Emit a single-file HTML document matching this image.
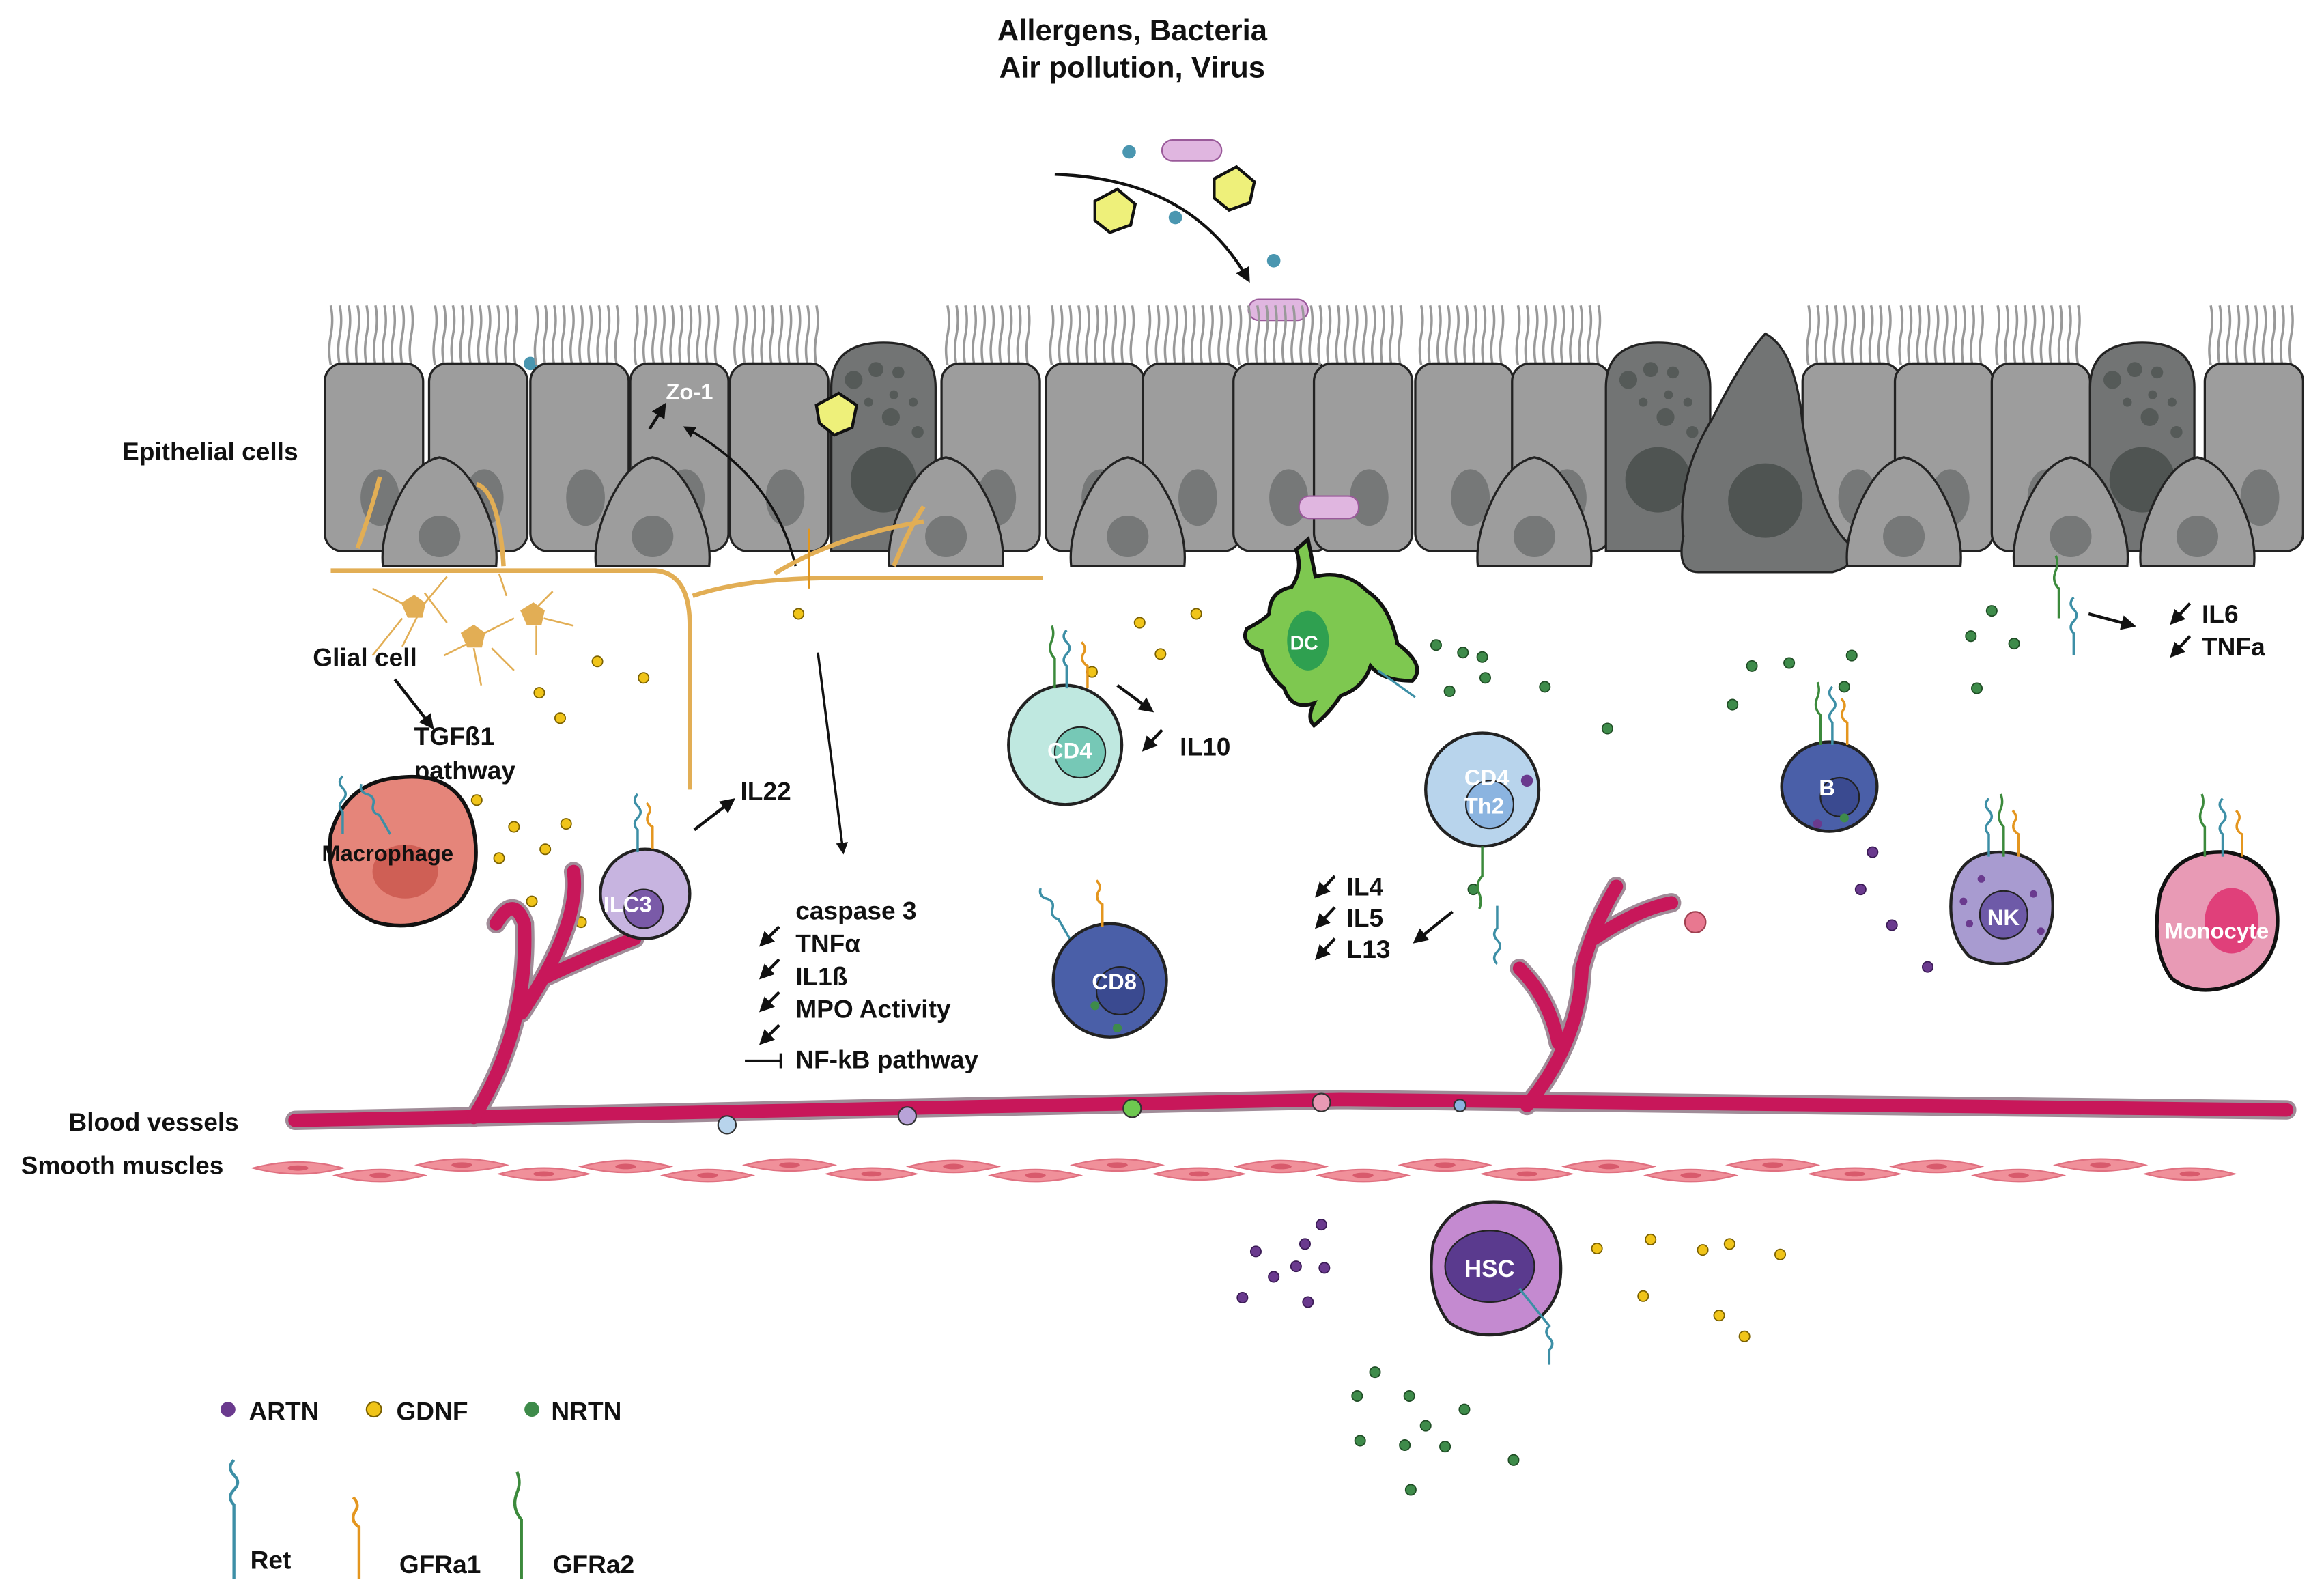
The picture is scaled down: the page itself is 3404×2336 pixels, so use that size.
<!DOCTYPE html>
<html><head><meta charset="utf-8"><style>
html,body{margin:0;padding:0;background:#fff}
svg{display:block}
text{font-family:"Liberation Sans",Arial,sans-serif;font-weight:bold;fill:#111}
</style></head><body>
<svg width="3404" height="2336" viewBox="0 0 1560 1070.6" xmlns="http://www.w3.org/2000/svg">
<defs>
<marker id="ah" viewBox="0 0 10 10" refX="8" refY="5" markerWidth="5" markerHeight="5" orient="auto"><path d="M0,0L10,5L0,10z" fill="#111"/></marker>
<g id="cil" stroke="#999" stroke-width="1.6" fill="none">
<path d="M4,45 q-2,-10 0,-20 q2,-10 0,-20"/><path d="M10,45 q-2,-10 0,-20 q2,-10 0,-20"/><path d="M16,45 q-2,-10 0,-20 q2,-10 0,-20"/><path d="M22,45 q-2,-10 0,-20 q2,-10 0,-20"/><path d="M28,45 q-2,-10 0,-20 q2,-10 0,-20"/><path d="M34,45 q-2,-10 0,-20 q2,-10 0,-20"/><path d="M40,45 q-2,-10 0,-20 q2,-10 0,-20"/><path d="M46,45 q-2,-10 0,-20 q2,-10 0,-20"/><path d="M52,45 q-2,-10 0,-20 q2,-10 0,-20"/><path d="M58,45 q-2,-10 0,-20 q2,-10 0,-20"/>
</g>
<g id="col"><use href="#cil" y="200"/><rect x="0" y="244" width="66" height="126" rx="12" fill="#9d9d9d" stroke="#222" stroke-width="1.5"/><ellipse cx="37" cy="334" rx="13" ry="19" fill="#767878"/></g>
<g id="bas"><path d="M-38,380 q-2,-20 10,-45 q12,-25 28,-28 q16,3 28,28 q12,25 10,45z" fill="#9d9d9d" stroke="#222" stroke-width="1.5"/><circle cx="0" cy="360" r="14" fill="#767878"/></g>
<g id="gob"><path d="M0,370 V260 q0,-30 35,-30 q35,0 35,30 V370z" fill="#727474" stroke="#222" stroke-width="1.5"/><circle cx="35" cy="322" r="22" fill="#4f5452"/><g fill="#555a58"><circle cx="15" cy="255" r="6"/><circle cx="30" cy="248" r="5"/><circle cx="45" cy="250" r="4"/><circle cx="42" cy="265" r="3"/><circle cx="25" cy="270" r="3"/><circle cx="40" cy="280" r="6"/><circle cx="55" cy="270" r="3"/><circle cx="58" cy="290" r="4"/></g></g>
<g id="ret" stroke="#3d8fa6" stroke-width="1.6" fill="none"><path d="M0,0 v-15 q-4,-4 0,-8 q4,-4 0,-8 q-4,-4 0,-8"/></g>
<g id="gf1" stroke="#e4961f" stroke-width="1.6" fill="none"><path d="M0,0 v-15 q-5,-3 -3,-8 q3,-4 -1,-8"/></g>
<g id="gf2" stroke="#3c8a3c" stroke-width="1.6" fill="none"><path d="M0,0 v-20 q-5,-5 -2,-12 q2,-5 0,-10"/></g>
<g id="sm"><path d="M0,0 q30,-8 60,0 q-30,8 -60,0z" fill="#f0909a" stroke="#e07080" stroke-width="1"/><ellipse cx="30" cy="0" rx="7" ry="1.8" fill="#d85a6c"/></g>
</defs>

<text x="760" y="27" font-size="20" text-anchor="middle">Allergens, Bacteria</text>
<text x="760" y="52" font-size="20" text-anchor="middle">Air pollution, Virus</text>

<path d="M708,117 Q800,120 838,188" fill="none" stroke="#111" stroke-width="2" marker-end="url(#ah)"/>
<rect x="780" y="94" width="40" height="14" rx="7" fill="#e0b6e0" stroke="#9a5a9a"/>
<path d="M735,135 l15,-8 l12,10 l-3,14 l-14,5 l-10,-8z" fill="#eef07a" stroke="#111" stroke-width="2"/>
<path d="M815,120 l15,-8 l12,10 l-3,14 l-14,5 l-10,-8z" fill="#eef07a" stroke="#111" stroke-width="2"/>
<g fill="#4a96b0"><circle cx="758" cy="102" r="4.5"/><circle cx="789" cy="146" r="4.5"/><circle cx="855" cy="175" r="4.5"/><circle cx="356" cy="244" r="4.5"/></g>
<rect x="838" y="201" width="40" height="14" rx="7" fill="#e0b6e0" stroke="#9a5a9a"/>

<use href="#col" x="218"/><use href="#col" x="288"/><use href="#col" x="356"/><use href="#col" x="423"/><use href="#col" x="490"/>
<use href="#col" x="632"/><use href="#col" x="702"/><use href="#col" x="767"/><use href="#col" x="828"/><use href="#col" x="882"/><use href="#col" x="950"/><use href="#col" x="1015"/>
<use href="#col" x="1210"/><use href="#col" x="1272"/><use href="#col" x="1337"/><use href="#col" x="1480"/>
<use href="#gob" x="558"/><use href="#gob" x="1078"/><use href="#gob" x="1403"/>
<path d="M1130,360 q-5,-40 20,-80 q20,-40 35,-56 q20,10 25,60 q10,60 30,80 q10,15 -10,20 h-90 q-15,0 -10,-24z" fill="#727474" stroke="#222" stroke-width="1.5"/>
<circle cx="1185" cy="336" r="25" fill="#4f5452"/>
<use href="#bas" x="295"/><use href="#bas" x="438"/><use href="#bas" x="635"/><use href="#bas" x="757"/><use href="#bas" x="1030"/><use href="#bas" x="1278"/><use href="#bas" x="1390"/><use href="#bas" x="1475"/>
<path d="M548,272 l15,-8 l12,8 l-3,15 l-12,5 l-10,-8z" fill="#eef07a" stroke="#111" stroke-width="2"/>
<rect x="872" y="333" width="40" height="15" rx="7" fill="#e0b6e0" stroke="#9a5a9a"/>
<text x="82" y="309" font-size="17">Epithelial cells</text>
<text x="447" y="268" font-size="15" style="fill:#fff">Zo-1</text>
<path d="M436,288 l10,-16" stroke="#111" stroke-width="2" marker-end="url(#ah)"/>
<path d="M534,380 Q520,320 460,287" fill="none" stroke="#111" stroke-width="1.6" marker-end="url(#ah)"/>

<g stroke="#e2ae55" stroke-width="3" fill="none">
<path d="M222,383 H440 Q463,385 463,420 V530"/>
<path d="M465,400 Q500,388 560,388 H700"/>
<path d="M520,385 Q560,360 620,350"/><path d="M240,368 Q250,340 255,320"/><path d="M338,380 Q335,330 320,325"/><path d="M600,380 Q610,355 620,340"/>
<path d="M543,395 v-40" stroke="#e0961e" stroke-width="1.5"/>
</g>
<g fill="#e2ae55" stroke="#e2ae55" stroke-width="1.2">
<path d="M270,405 l8,-5 l7,5 l-2,9 h-9z"/><path d="M310,425 l8,-5 l7,5 l-2,9 h-9z"/><path d="M350,410 l8,-5 l7,5 l-2,9 h-9z"/>
<path d="M270,405 l-20,-10 M285,405 l15,-18 M280,414 l-10,20 M318,430 l-20,10 M325,425 l20,-10 M318,435 l5,25 M356,412 l15,-15 M365,415 l20,5 M360,420 l0,20 M250,440 l20,-25 M300,418 l-15,-20 M340,400 l-5,-15 M330,435 l15,15" fill="none"/>
</g>
<text x="210" y="447" font-size="17">Glial cell</text>
<path d="M265,456 L290,488" stroke="#111" stroke-width="2" marker-end="url(#ah)"/>
<text x="278" y="500" font-size="17">TGFß1</text>
<text x="278" y="523" font-size="17">pathway</text>
<path d="M549,438 L566,572" stroke="#111" stroke-width="1.6" marker-end="url(#ah)"/>

<g fill="#f0c419" stroke="#7a6000" stroke-width="0.8">
<circle cx="536" cy="412" r="3.5"/><circle cx="401" cy="444" r="3.5"/><circle cx="362" cy="465" r="3.5"/><circle cx="432" cy="455" r="3.5"/><circle cx="376" cy="482" r="3.5"/><circle cx="320" cy="537" r="3.5"/><circle cx="345" cy="555" r="3.5"/><circle cx="366" cy="570" r="3.5"/><circle cx="380" cy="553" r="3.5"/><circle cx="335" cy="576" r="3.5"/><circle cx="357" cy="605" r="3.5"/><circle cx="390" cy="619" r="3.5"/><circle cx="303" cy="536" r="3.5"/>
<circle cx="765" cy="418" r="3.5"/><circle cx="803" cy="412" r="3.5"/><circle cx="779" cy="439" r="3.5"/><circle cx="733" cy="451" r="3.5"/>
<circle cx="1072" cy="838" r="3.5"/><circle cx="1108" cy="832" r="3.5"/><circle cx="1143" cy="839" r="3.5"/><circle cx="1161" cy="835" r="3.5"/><circle cx="1195" cy="842" r="3.5"/><circle cx="1103" cy="870" r="3.5"/><circle cx="1154" cy="883" r="3.5"/><circle cx="1171" cy="897" r="3.5"/>
</g>
<g fill="#3e8b4a" stroke="#1f4d25" stroke-width="0.8">
<circle cx="964" cy="433" r="3.5"/><circle cx="982" cy="438" r="3.5"/><circle cx="995" cy="441" r="3.5"/><circle cx="997" cy="455" r="3.5"/><circle cx="1037" cy="461" r="3.5"/><circle cx="973" cy="464" r="3.5"/><circle cx="1079" cy="489" r="3.5"/><circle cx="1176" cy="447" r="3.5"/><circle cx="1201" cy="445" r="3.5"/><circle cx="1243" cy="440" r="3.5"/><circle cx="1163" cy="473" r="3.5"/><circle cx="1238" cy="461" r="3.5"/><circle cx="1323" cy="427" r="3.5"/><circle cx="1352" cy="432" r="3.5"/><circle cx="1337" cy="410" r="3.5"/><circle cx="1327" cy="462" r="3.5"/><circle cx="989" cy="597" r="3.5"/>
<circle cx="923" cy="921" r="3.5"/><circle cx="911" cy="937" r="3.5"/><circle cx="946" cy="937" r="3.5"/><circle cx="983" cy="946" r="3.5"/><circle cx="957" cy="957" r="3.5"/><circle cx="913" cy="967" r="3.5"/><circle cx="943" cy="970" r="3.5"/><circle cx="970" cy="971" r="3.5"/><circle cx="1016" cy="980" r="3.5"/><circle cx="947" cy="1000" r="3.5"/>
</g>
<g fill="#6a3a8e" stroke="#3a1a55" stroke-width="0.8">
<circle cx="1257" cy="572" r="3.5"/><circle cx="1249" cy="597" r="3.5"/><circle cx="1270" cy="621" r="3.5"/><circle cx="1294" cy="649" r="3.5"/>
<circle cx="887" cy="822" r="3.5"/><circle cx="876" cy="835" r="3.5"/><circle cx="843" cy="840" r="3.5"/><circle cx="870" cy="850" r="3.5"/><circle cx="889" cy="851" r="3.5"/><circle cx="855" cy="857" r="3.5"/><circle cx="834" cy="871" r="3.5"/><circle cx="878" cy="874" r="3.5"/>
</g>

<g stroke="#a08c98" stroke-width="13" fill="none" stroke-linecap="round">
<path d="M198,752 L900,738 L1535,745"/><path d="M318,750 Q355,690 352,620 Q345,600 333,620 M350,680 Q390,620 385,585 M368,655 Q400,640 426,630"/><path d="M1025,742 Q1060,700 1062,650 Q1070,620 1085,595 M1046,700 Q1040,670 1020,650 M1070,630 Q1100,610 1122,606"/>
</g>
<g stroke="#c8175a" stroke-width="9" fill="none" stroke-linecap="round">
<path d="M198,752 L900,738 L1535,745"/><path d="M318,750 Q355,690 352,620 Q345,600 333,620 M350,680 Q390,620 385,585 M368,655 Q400,640 426,630"/><path d="M1025,742 Q1060,700 1062,650 Q1070,620 1085,595 M1046,700 Q1040,670 1020,650 M1070,630 Q1100,610 1122,606"/>
</g>
<circle cx="488" cy="755" r="6" fill="#b8d4ec" stroke="#333"/><circle cx="609" cy="749" r="6" fill="#b8a3d8" stroke="#333"/><circle cx="760" cy="744" r="6" fill="#6ec850" stroke="#333"/><circle cx="887" cy="740" r="6" fill="#e89ab5" stroke="#333"/><circle cx="980" cy="742" r="4" fill="#8bb4e0" stroke="#333"/>
<circle cx="1138" cy="619" r="7" fill="#e87890" stroke="#a04050"/>
<text x="46" y="759" font-size="17">Blood vessels</text>
<text x="14" y="788" font-size="17">Smooth muscles</text>
<g>
<use href="#sm" x="170" y="784"/><use href="#sm" x="225" y="789"/><use href="#sm" x="280" y="782"/><use href="#sm" x="335" y="788"/><use href="#sm" x="390" y="783"/><use href="#sm" x="445" y="789"/><use href="#sm" x="500" y="782"/><use href="#sm" x="555" y="788"/><use href="#sm" x="610" y="783"/><use href="#sm" x="665" y="789"/><use href="#sm" x="720" y="782"/><use href="#sm" x="775" y="788"/><use href="#sm" x="830" y="783"/><use href="#sm" x="885" y="789"/><use href="#sm" x="940" y="782"/><use href="#sm" x="995" y="788"/><use href="#sm" x="1050" y="783"/><use href="#sm" x="1105" y="789"/><use href="#sm" x="1160" y="782"/><use href="#sm" x="1215" y="788"/><use href="#sm" x="1270" y="783"/><use href="#sm" x="1325" y="789"/><use href="#sm" x="1380" y="782"/><use href="#sm" x="1440" y="788"/>
</g>

<path d="M222,560 q10,-35 45,-38 q40,-5 50,30 q8,35 -10,55 q-25,20 -55,12 q-35,-15 -30,-59z" fill="#e5857a" stroke="#111" stroke-width="2.5"/>
<ellipse cx="272" cy="585" rx="22" ry="18" fill="#cf5f55"/>
<use href="#ret" transform="translate(230,560)"/><use href="#ret" transform="translate(262,560) rotate(-30)"/>
<text x="216" y="578" font-size="15">Macrophage</text>
<circle cx="433" cy="600" r="30" fill="#c7b4e0" stroke="#222" stroke-width="2"/><circle cx="432" cy="610" r="13" fill="#7a5aa8" stroke="#222"/>
<use href="#ret" transform="translate(428,572)"/><use href="#gf1" transform="translate(438,570)"/>
<text x="405" y="612" font-size="15" style="fill:#fff">ILC3</text>
<path d="M466,557 L492,537" stroke="#111" stroke-width="2" marker-end="url(#ah)"/>
<text x="497" y="537" font-size="17">IL22</text>
<ellipse cx="715" cy="500" rx="38" ry="40" fill="#bfe8e0" stroke="#222" stroke-width="2"/><circle cx="725" cy="505" r="17" fill="#76c8b6" stroke="#222"/>
<use href="#ret" transform="translate(716,462)"/><use href="#gf2" transform="translate(708,462)"/><use href="#gf1" transform="translate(730,462)"/>
<text x="703" y="509" font-size="15" style="fill:#fff">CD4</text>
<path d="M750,460 L773,477" stroke="#111" stroke-width="2" marker-end="url(#ah)"/>
<path d="M780,490 L768,503" stroke="#111" stroke-width="2" marker-end="url(#ah)"/>
<text x="792" y="507" font-size="17">IL10</text>
<path d="M878,362 l5,25 q20,-5 35,10 q15,10 20,35 q20,15 10,25 q-20,0 -28,-10 q-5,15 -20,20 q-8,12 -18,20 q-5,-5 0,-15 q-15,5 -20,-10 q-12,-10 -15,-25 q-15,-5 -10,-15 q10,-5 15,-10 q0,-15 15,-18 q8,-12 3,-25z" fill="#7ec850" stroke="#111" stroke-width="2.5"/>
<ellipse cx="878" cy="430" rx="14" ry="20" fill="#2fa050"/>
<text x="866" y="436" font-size="13" style="fill:#fff">DC</text>
<path d="M925,450 l25,18" stroke="#3d8fa6" stroke-width="1.5"/>
<ellipse cx="995" cy="530" rx="38" ry="38" fill="#b8d4ec" stroke="#222" stroke-width="2"/><circle cx="1000" cy="540" r="16" fill="#8bb4e0" stroke="#222"/>
<circle cx="1025" cy="524" r="4" fill="#6a3a8e"/>
<use href="#ret" transform="translate(1005,608) scale(1,-1)"/><use href="#gf2" transform="translate(995,568) scale(1,-1)"/>
<text x="983" y="527" font-size="15" style="fill:#fff">CD4</text>
<text x="983" y="546" font-size="15" style="fill:#fff">Th2</text>
<path d="M975,612 L950,632" stroke="#111" stroke-width="2" marker-end="url(#ah)"/>
<text x="904" y="601" font-size="17">IL4</text><text x="904" y="622" font-size="17">IL5</text><text x="904" y="643" font-size="17">L13</text>
<path d="M896,588 l-12,13" stroke="#111" stroke-width="2" marker-end="url(#ah)"/>
<path d="M896,609 l-12,13" stroke="#111" stroke-width="2" marker-end="url(#ah)"/>
<path d="M896,630 l-12,13" stroke="#111" stroke-width="2" marker-end="url(#ah)"/>
<ellipse cx="1228" cy="528" rx="32" ry="30" fill="#4a5fa8" stroke="#222" stroke-width="2"/><circle cx="1235" cy="535" r="13" fill="#3a4a90" stroke="#222"/>
<circle cx="1220" cy="553" r="3" fill="#6a3a8e"/><circle cx="1238" cy="549" r="3" fill="#3e8b4a"/>
<use href="#gf2" transform="translate(1222,500)"/><use href="#ret" transform="translate(1230,500)"/><use href="#gf1" transform="translate(1240,500)"/>
<text x="1221" y="534" font-size="15" style="fill:#fff">B</text>
<path d="M1310,600 q5,-28 32,-28 q28,0 35,25 q5,30 -15,45 q-20,10 -40,0 q-15,-15 -12,-42z" fill="#a89bd0" stroke="#222" stroke-width="2"/>
<circle cx="1345" cy="614" r="16" fill="#6e5aa8" stroke="#222"/>
<g fill="#6a3a8e"><circle cx="1318" cy="605" r="2.5"/><circle cx="1322" cy="620" r="2.5"/><circle cx="1365" cy="600" r="2.5"/><circle cx="1370" cy="625" r="2.5"/><circle cx="1330" cy="590" r="2.5"/></g>
<use href="#gf2" transform="translate(1345,575)"/><use href="#ret" transform="translate(1335,575)"/><use href="#gf1" transform="translate(1355,575)"/>
<text x="1334" y="621" font-size="15" style="fill:#fff">NK</text>
<path d="M1450,600 q10,-30 45,-28 q30,5 33,35 q5,35 -20,50 q-30,15 -50,0 q-15,-20 -8,-57z" fill="#e89ab5" stroke="#111" stroke-width="2.5"/>
<ellipse cx="1498" cy="618" rx="18" ry="22" fill="#e0407a"/>
<use href="#gf2" transform="translate(1480,575)"/><use href="#ret" transform="translate(1492,575)"/><use href="#gf1" transform="translate(1505,575)"/>
<text x="1453" y="630" font-size="15" style="fill:#fff">Monocyte</text>
<ellipse cx="745" cy="658" rx="38" ry="38" fill="#4a5fa8" stroke="#222" stroke-width="2"/><circle cx="752" cy="665" r="16" fill="#3a4a90" stroke="#222"/>
<circle cx="735" cy="675" r="3" fill="#3e8b4a"/><circle cx="750" cy="690" r="3" fill="#3e8b4a"/>
<use href="#ret" transform="translate(718,630) rotate(-30)"/><use href="#gf1" transform="translate(740,622)"/>
<text x="733" y="664" font-size="15" style="fill:#fff">CD8</text>
<path d="M962,835 q10,-30 45,-28 q35,2 40,35 q5,35 -25,50 q-30,10 -50,-5 q-15,-20 -10,-52z" fill="#c48ad0" stroke="#222" stroke-width="2"/>
<ellipse cx="1000" cy="850" rx="30" ry="24" fill="#5a3a8e" stroke="#222"/>
<text x="983" y="857" font-size="16" style="fill:#fff">HSC</text>
<path d="M1020,865 l20,25 q-4,4 0,8 q4,4 0,8 v10" stroke="#3d8fa6" stroke-width="1.6" fill="none"/>

<text x="534" y="617" font-size="17">caspase 3</text>
<text x="534" y="639" font-size="17">TNFα</text>
<text x="534" y="661" font-size="17">IL1ß</text>
<text x="534" y="683" font-size="17">MPO Activity</text>
<text x="534" y="717" font-size="17">NF-kB pathway</text>
<path d="M523,622 l-12,12" stroke="#111" stroke-width="2" marker-end="url(#ah)"/>
<path d="M523,644 l-12,12" stroke="#111" stroke-width="2" marker-end="url(#ah)"/>
<path d="M523,666 l-12,12" stroke="#111" stroke-width="2" marker-end="url(#ah)"/>
<path d="M523,688 l-12,12" stroke="#111" stroke-width="2" marker-end="url(#ah)"/>
<path d="M500,712 H524 M524,707 v10" stroke="#111" stroke-width="1.5"/>

<use href="#gf2" transform="translate(1382,415)"/><use href="#ret" transform="translate(1392,440)"/>
<path d="M1402,412 L1432,420" stroke="#111" stroke-width="2" marker-end="url(#ah)"/>
<text x="1478" y="418" font-size="17">IL6</text><text x="1478" y="440" font-size="17">TNFa</text>
<path d="M1470,405 l-12,13" stroke="#111" stroke-width="2" marker-end="url(#ah)"/>
<path d="M1470,427 l-12,13" stroke="#111" stroke-width="2" marker-end="url(#ah)"/>

<circle cx="153" cy="946" r="5" fill="#6a3a8e"/><text x="167" y="953" font-size="17">ARTN</text>
<circle cx="251" cy="946" r="5" fill="#f0c419" stroke="#7a6000"/><text x="266" y="953" font-size="17">GDNF</text>
<circle cx="357" cy="946" r="5" fill="#3e8b4a"/><text x="370" y="953" font-size="17">NRTN</text>
<path d="M157,1060 V1010 q-5,-5 0,-10 q5,-5 0,-10 q-5,-5 0,-10" stroke="#3d8fa6" stroke-width="2" fill="none"/>
<text x="168" y="1053" font-size="17">Ret</text>
<path d="M241,1060 V1025 q-6,-4 -3,-10 q4,-5 -1,-10" stroke="#e4961f" stroke-width="2" fill="none"/>
<text x="268" y="1056" font-size="17">GFRa1</text>
<path d="M350,1060 V1020 q-7,-8 -3,-18 q3,-7 0,-14" stroke="#3c8a3c" stroke-width="2" fill="none"/>
<text x="371" y="1056" font-size="17">GFRa2</text>
</svg>
</body></html>
